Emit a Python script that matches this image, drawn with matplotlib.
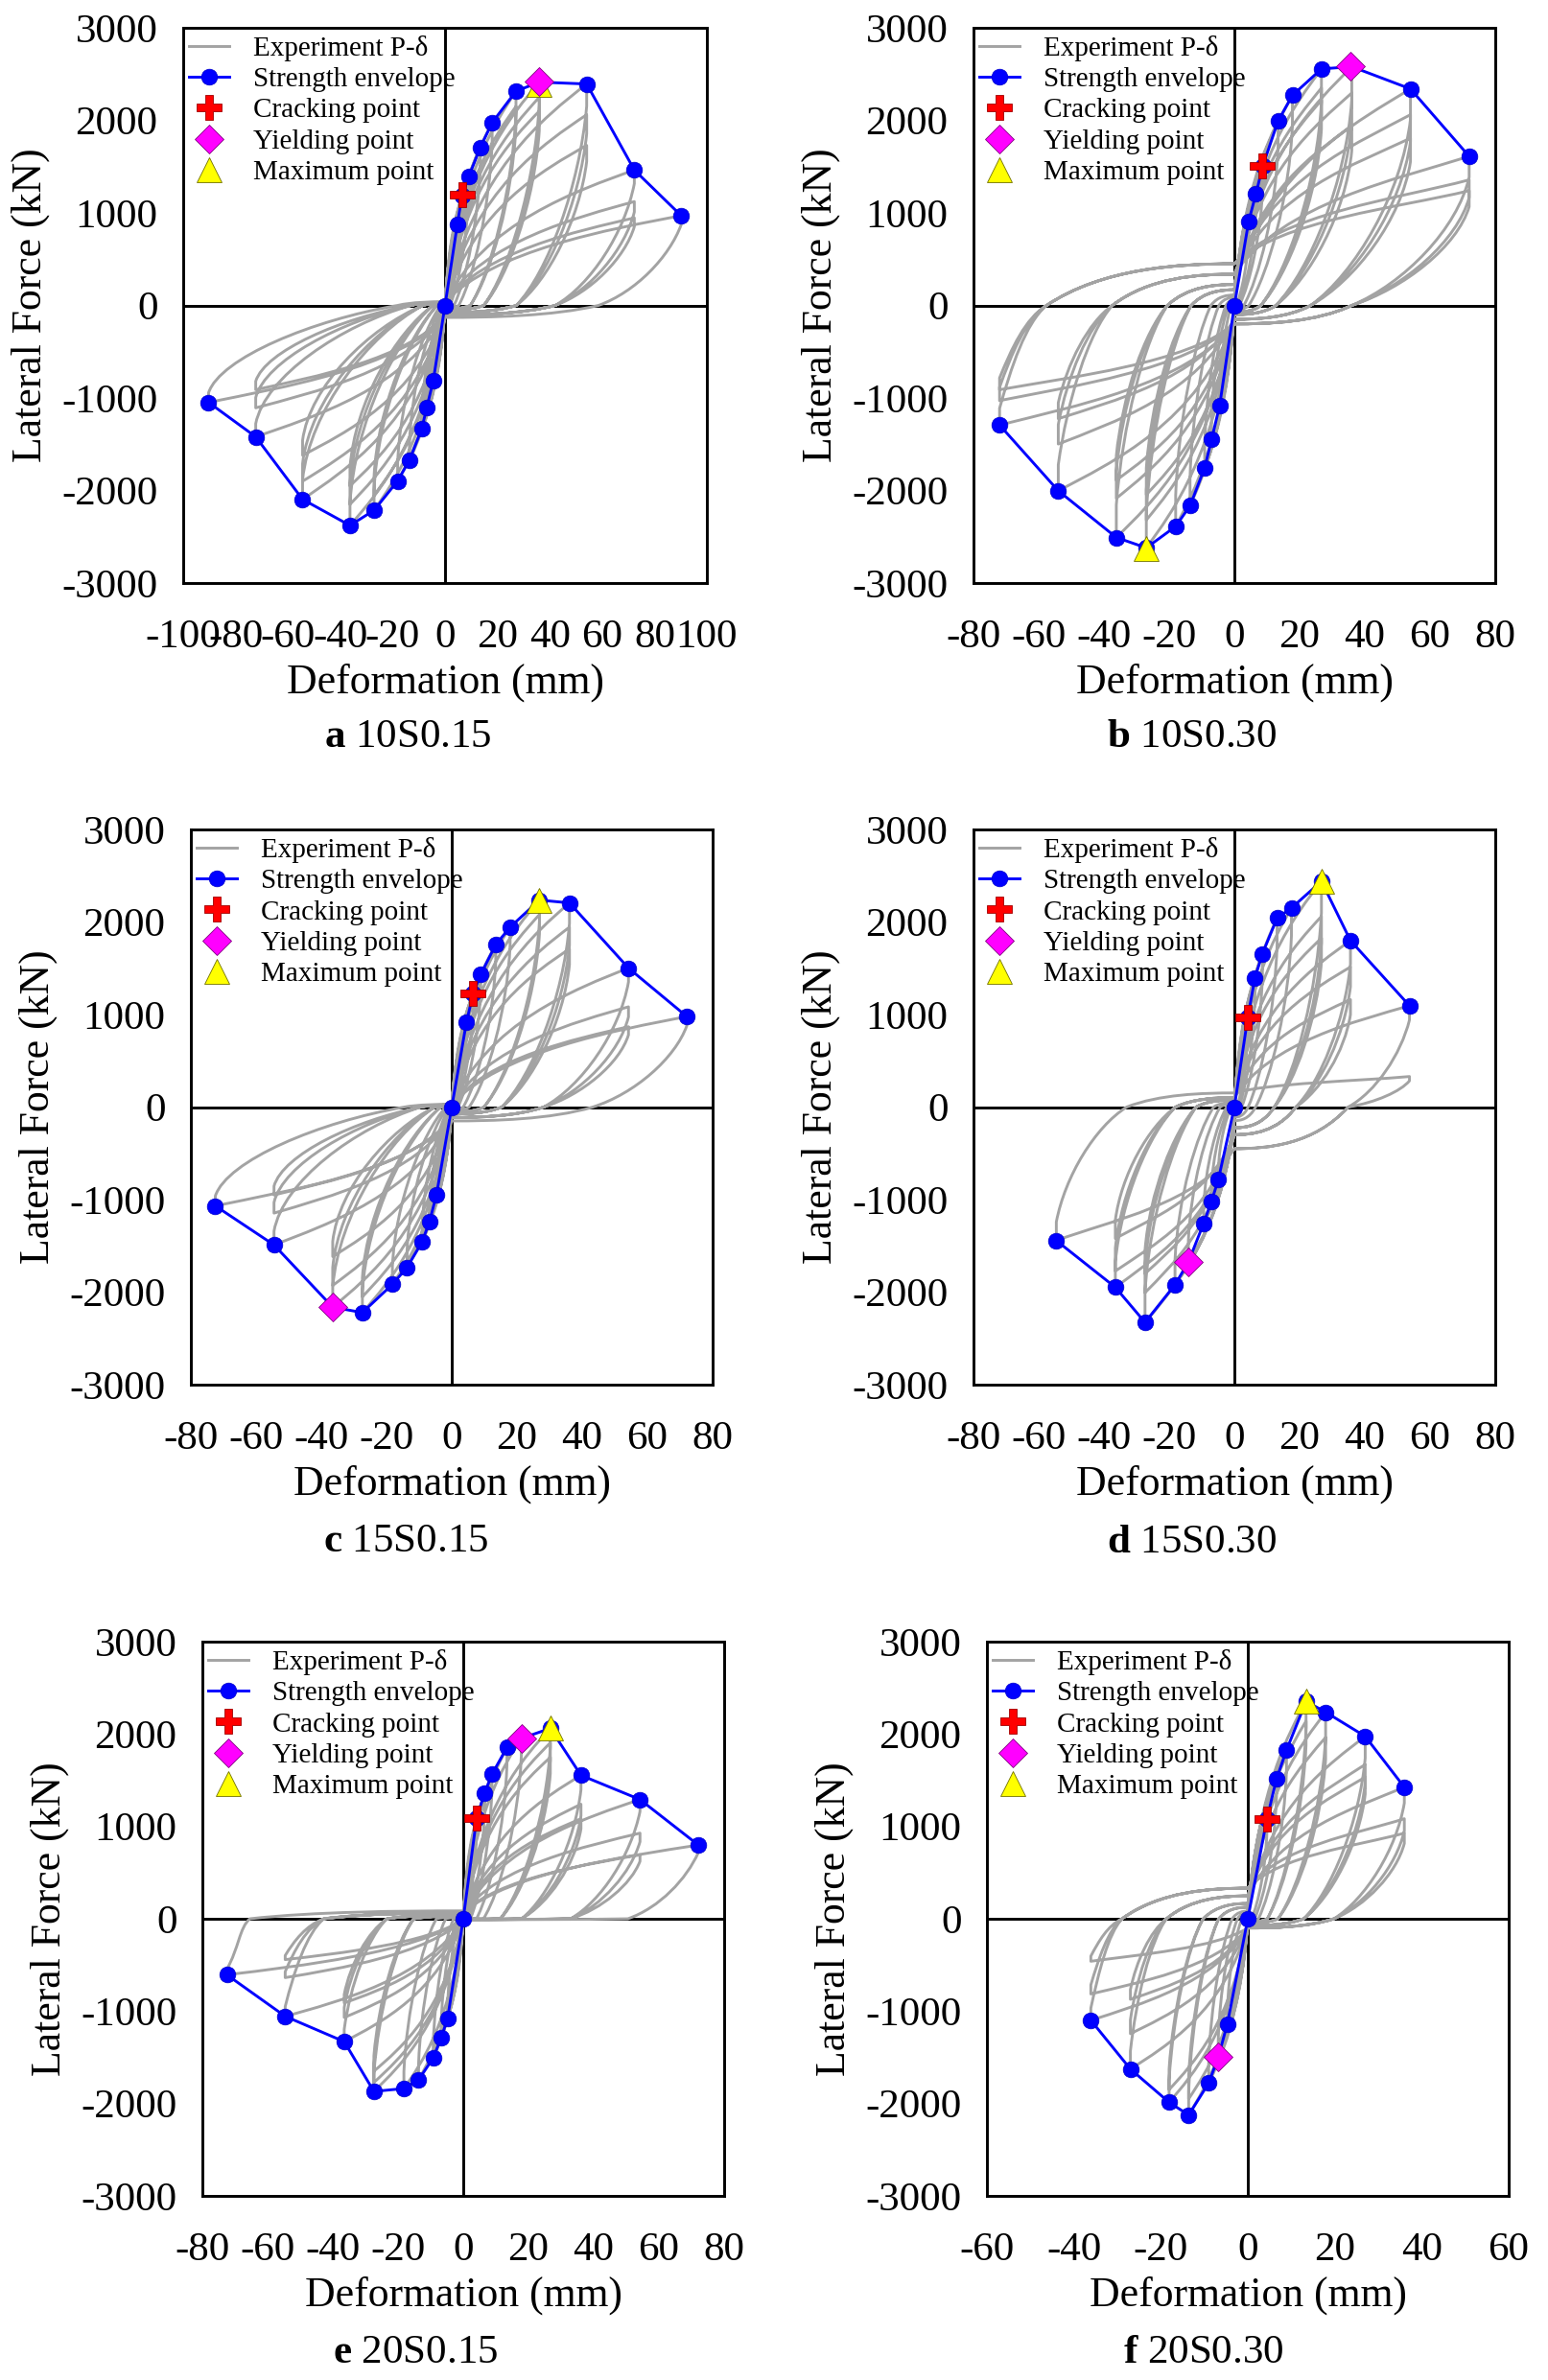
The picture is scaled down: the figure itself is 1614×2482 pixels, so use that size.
import matplotlib
matplotlib.use("Agg")
import matplotlib.pyplot as plt
from matplotlib.path import Path
from matplotlib.patches import PathPatch
from matplotlib.lines import Line2D

plt.rcParams['font.family'] = ['Liberation Serif', 'DejaVu Serif']
plt.rcParams['axes.unicode_minus'] = False
plt.rcParams['mathtext.fontset'] = 'custom'
plt.rcParams['mathtext.rm'] = 'Liberation Serif'
plt.rcParams['mathtext.bf'] = 'Liberation Serif:bold'

# ---------------- data ----------------
# strength envelopes (mm, kN), from the negative end to the positive end
a_env_x = [-90.3, -72.3, -54.4, -36.3, -27.1, -18.1, -13.6, -8.9, -7.0, -4.5, 0, 4.7, 6.5, 9.1, 13.5, 18.0, 27.1, 36.0, 54.1, 72.3, 90.2]
a_env_y = [-1048, -1420, -2096, -2378, -2214, -1897, -1674, -1334, -1107, -813, 0, 876, 1190, 1396, 1709, 1975, 2315, 2413, 2393, 1463, 970]
b_env_x = [-72.0, -54.0, -36.2, -27.0, -18.0, -13.6, -9.1, -7.0, -4.5, 0, 4.4, 6.6, 8.7, 13.4, 17.8, 26.7, 36.0, 54.0, 72.0]
b_env_y = [-1293, -2003, -2508, -2620, -2388, -2165, -1755, -1450, -1080, 0, 910, 1206, 1505, 1993, 2270, 2556, 2580, 2340, 1611]
c_env_x = [-72.5, -54.5, -36.5, -27.4, -18.2, -13.7, -9.1, -6.8, -4.7, 0, 4.5, 6.6, 8.9, 13.5, 17.9, 26.9, 36.1, 54.2, 72.1]
c_env_y = [-1068, -1490, -2163, -2221, -1916, -1733, -1459, -1236, -950, 0, 915, 1232, 1435, 1756, 1944, 2237, 2206, 1502, 978]
d_env_x = [-54.6, -36.5, -27.4, -18.2, -14.1, -9.4, -7.0, -4.9, 0, 4.1, 6.3, 8.6, 13.1, 17.5, 26.7, 35.6, 53.7]
d_env_y = [-1443, -1948, -2327, -1920, -1674, -1255, -1017, -782, 0, 966, 1396, 1658, 2042, 2151, 2440, 1799, 1095]
e_env_x = [-72.5, -54.6, -36.5, -27.4, -18.2, -13.7, -9.2, -6.8, -4.8, 0, 4.1, 6.6, 8.8, 13.4, 17.8, 26.7, 36.1, 54.2, 72.1]
e_env_y = [-606, -1056, -1330, -1869, -1838, -1744, -1506, -1291, -1079, 0, 1091, 1365, 1564, 1854, 1952, 2061, 1553, 1291, 798]
f_env_x = [-36.1, -27.0, -18.1, -13.6, -9.0, -6.8, -4.7, 0, 4.4, 6.6, 8.9, 13.4, 17.9, 27.0, 36.0]
f_env_y = [-1099, -1627, -1987, -2124, -1779, -1498, -1138, 0, 1083, 1513, 1826, 2354, 2237, 1975, 1424]

# load cycles: (positive peak disp, force, negative peak disp, force)
a_cycles = [(4.7, 876, -4.5, -813), (6.5, 1190, -7.0, -1107), (9.1, 1396, -8.9, -1334),
            (13.5, 1709, -13.6, -1674), (18.0, 1975, -18.1, -1897), (27.1, 2315, -27.1, -2214),
            (27.1, 2150, -27.1, -2050), (36.0, 2413, -36.3, -2378), (36.0, 2250, -36.3, -2150),
            (36.0, 2100, -36.3, -1950), (54.1, 2393, -54.4, -2096), (54.1, 2061, -54.4, -1900),
            (54.1, 1729, -54.4, -1620), (72.3, 1463, -72.3, -1420), (72.3, 1122, -72.3, -1107),
            (72.3, 946, -72.3, -911), (90.2, 970, -90.3, -1048)]
b_cycles = [(4.4, 910, -4.5, -1080), (6.6, 1206, -7.0, -1450), (8.7, 1505, -9.1, -1755),
            (13.4, 1993, -13.6, -2165), (17.8, 2270, -18.0, -2388), (26.7, 2556, -27.0, -2620),
            (26.7, 2350, -27.0, -2319), (26.7, 2218, -27.0, -2045), (36.0, 2580, -36.2, -2508),
            (36.0, 2296, -36.2, -2085), (36.0, 1944, -36.2, -1889), (54.0, 2340, -54.0, -2003),
            (54.0, 2061, -54.0, -1498), (54.0, 1807, -54.0, -1224), (72.0, 1611, -72.0, -1293),
            (72.0, 1357, -72.0, -1029), (72.0, 1240, -72.0, -911)]
c_cycles = [(4.5, 915, -4.7, -950), (6.6, 1232, -6.8, -1236), (8.9, 1435, -9.1, -1459),
            (13.5, 1756, -13.7, -1733), (17.9, 1944, -18.2, -1916), (26.9, 2237, -27.4, -2221),
            (26.9, 2080, -27.4, -2050), (36.1, 2206, -36.5, -2163), (36.1, 1944, -36.5, -1928),
            (36.1, 1709, -36.5, -1615), (54.2, 1502, -54.5, -1490), (54.2, 1083, -54.5, -1146),
            (54.2, 868, -54.5, -950), (72.1, 978, -72.5, -1068)]
d_cycles = [(4.1, 966, -4.9, -782), (6.3, 1396, -7.0, -1017), (8.6, 1658, -9.4, -1255),
            (13.1, 2042, -14.1, -1674), (17.5, 2151, -18.2, -1920), (26.7, 2440, -27.4, -2327),
            (26.7, 2061, -27.4, -2006), (26.7, 1826, -27.4, -1800), (35.6, 1799, -36.5, -1948),
            (35.6, 1514, -36.5, -1772), (35.6, 1161, -36.5, -1420), (53.7, 1095, -54.6, -1443),
            (53.7, 330, None, None)]
e_cycles = [(4.1, 1091, -4.8, -1079), (6.6, 1365, -6.8, -1291), (8.8, 1564, -9.2, -1506),
            (13.4, 1854, -13.7, -1744), (17.8, 1952, -18.2, -1838), (26.7, 2061, -27.4, -1869),
            (26.7, 1905, -27.4, -1772), (26.7, 1748, -27.4, -1650), (36.1, 1553, -36.5, -1330),
            (36.1, 1240, -36.5, -1068), (36.1, 1083, -36.5, -911), (54.2, 1291, -54.6, -1056),
            (54.2, 927, -54.6, -637), (54.2, 692, -54.6, -442), (72.1, 798, -72.5, -606)]
f_cycles = [(4.4, 1083, -4.7, -1138), (6.6, 1513, -6.8, -1498), (8.9, 1826, -9.0, -1779),
            (13.4, 2354, -13.6, -2124), (13.4, 2140, -13.6, -1950), (17.9, 2237, -18.1, -1987),
            (17.9, 1963, -18.1, -1850), (27.0, 1975, -27.0, -1627), (27.0, 1670, -27.0, -1244),
            (27.0, 1533, -27.0, -872), (36.0, 1424, -36.1, -1099), (36.0, 1083, -36.1, -814),
            (36.0, 927, -36.1, -460)]

# loop shape read per specimen: drop ratio, residual ratio (+/-), force at zero disp (+/-)
a_shape = (0.90, 0.65, 0.20, -130, 40)
b_shape = (0.86, 0.50, 0.80, -200, 450)
c_shape = (0.90, 0.60, 0.20, -150, 30)
d_shape = (0.86, 0.65, 0.60, -450, 150)
e_shape = (0.90, 0.70, 0.90, -10, 85)
f_shape = (0.88, 0.55, 0.80, -100, 330)

# characteristic points (x, y)
a_crack, a_yield, a_max = (6.5, 1193), (36.0, 2421), (36.0, 2385)
b_crack, b_yield, b_max = (8.5, 1510), (35.5, 2585), (-27.2, -2632)
c_crack, c_yield, c_max = (6.6, 1232), (-36.5, -2163), (26.9, 2237)
d_crack, d_yield, d_max = (4.1, 966), (-14.1, -1674), (26.7, 2440)
e_crack, e_yield, e_max = (4.1, 1091), (17.8, 1952), (26.7, 2061)
f_crack, f_yield, f_max = (4.4, 1083), (-6.8, -1498), (13.4, 2354)

letters = ['a', 'b', 'c', 'd', 'e', 'f']
names = ['10S0.15', '10S0.30', '15S0.15', '15S0.30', '20S0.15', '20S0.30']
x_limits = [100, 80, 80, 80, 80, 60]

W, H = 1615, 2482
GRAY = '#a3a3a3'
LW = 2.1


def half_loop(xp, yp, y0, fo, drop, rr, xmax):
    # loading from (0, y0) to the peak, drop, unloading back to (0, fo)
    v = [(0.2 * xp, y0 + 0.6 * (yp - y0)), (0.7 * xp, 0.85 * yp), (xp, yp), (xp, drop * yp)]
    r = rr * xp * (abs(xp) / xmax) ** 0.5
    v += [(0.95 * xp, 0.6 * drop * yp), (r + 0.45 * (xp - r), 0.15 * yp), (r, 0.0)]
    v += [(0.7 * r, 0.9 * fo), (0.3 * r, fo), (0.0, fo)]
    c = [Path.CURVE4] * 3 + [Path.LINETO] + [Path.CURVE4] * 6
    return v, c


def hysteresis_path(cycles, shape):
    drop, rp, rn, f_out, f_in = shape
    xmax = max(c[0] for c in cycles)
    verts = [(0.0, 0.0)]
    codes = [Path.MOVETO]
    y0 = 0.0
    for xp, yp, xn, yn in cycles:
        fo = f_out * xp / xmax
        v, c = half_loop(xp, yp, y0, fo, drop, rp, xmax)
        verts += v
        codes += c
        if xn is None:
            break
        fi = f_in * (-xn) / xmax
        v, c = half_loop(xn, yn, fo, fi, drop, rn, xmax)
        verts += v
        codes += c
        y0 = fi
    return Path(verts, codes)


fig = plt.figure(figsize=(W / 100, H / 100), dpi=100)

# axes boxes in pixels: left, top, right, bottom
boxes = [(191, 29, 737, 608), (1015, 29, 1559, 608),
         (199, 865, 743, 1444), (1015, 865, 1559, 1444),
         (211, 1712, 755, 2290), (1029, 1712, 1573, 2290)]
title_pos = [(425, 769), (1243, 769), (423, 1608), (1243, 1609), (433, 2454), (1255, 2454)]

envs = [(a_env_x, a_env_y), (b_env_x, b_env_y), (c_env_x, c_env_y),
        (d_env_x, d_env_y), (e_env_x, e_env_y), (f_env_x, f_env_y)]
cycles_all = [a_cycles, b_cycles, c_cycles, d_cycles, e_cycles, f_cycles]
shapes = [a_shape, b_shape, c_shape, d_shape, e_shape, f_shape]
points = [(a_crack, a_yield, a_max), (b_crack, b_yield, b_max), (c_crack, c_yield, c_max),
          (d_crack, d_yield, d_max), (e_crack, e_yield, e_max), (f_crack, f_yield, f_max)]

for i in range(6):
    l, t, r, b = boxes[i]
    w, h = r - l, b - t
    ax = fig.add_axes([l / W, 1 - b / H, w / W, h / H])
    xl = x_limits[i]
    ax.set_xlim(-xl, xl)
    ax.set_ylim(-3000, 3000)
    ax.set_xticks(range(-xl, xl + 1, 20))
    ax.set_yticks(range(-3000, 3001, 1000))
    ax.tick_params(length=0, labelsize=31)
    ax.tick_params(axis='x', pad=27)
    ax.tick_params(axis='y', pad=19)
    for sp in ax.spines.values():
        sp.set_linewidth(LW)
    ax.axhline(0, color='k', lw=LW, zorder=1.5)
    ax.axvline(0, color='k', lw=LW, zorder=1.5)

    ax.add_patch(PathPatch(hysteresis_path(cycles_all[i], shapes[i]), facecolor='none',
                           edgecolor=GRAY, lw=LW, zorder=2, joinstyle='round'))
    ex, ey = envs[i]
    ax.plot(ex, ey, '-o', color='#0000ff', mec='#0000cc', mew=0.5, ms=12, lw=LW, zorder=3)
    crack, yld, mx = points[i]
    ax.plot(*crack, 'P', ms=19, color='#ff0000', mec='#a00000', mew=0.6, zorder=6)
    ax.plot(*mx, '^', ms=19, color='#ffff00', mec='#707000', mew=0.6, zorder=4.5)
    ax.plot(*yld, 'D', ms=15, color='#ff00ff', mec='#800080', mew=0.6, zorder=5)

    handles = [Line2D([], [], color=GRAY, lw=LW),
               Line2D([], [], color='#0000ff', marker='o', mec='#0000cc', mew=0.5, ms=12, lw=LW),
               Line2D([], [], ls='none', marker='P', ms=19, color='#ff0000', mec='#a00000', mew=0.6),
               Line2D([], [], ls='none', marker='D', ms=15, color='#ff00ff', mec='#800080', mew=0.6),
               Line2D([], [], ls='none', marker='^', ms=19, color='#ffff00', mec='#707000', mew=0.6)]
    labels = ['Experiment P-δ', 'Strength envelope', 'Cracking point', 'Yielding point', 'Maximum point']
    ax.legend(handles, labels, loc='upper left', bbox_to_anchor=(6 / w, 1 - 8 / h),
              frameon=False, fontsize=21, handlelength=1.43, handletextpad=0.87,
              labelspacing=0.2, borderpad=0, borderaxespad=0, numpoints=1)

    ax.set_xlabel('Deformation (mm)', fontsize=31.5)
    ax.xaxis.label.set_va('center')
    ax.xaxis.set_label_coords(0.5, -104 / h)
    ax.set_ylabel('Lateral Force (kN)', fontsize=31.5)
    ax.yaxis.label.set_va('center')
    ax.yaxis.set_label_coords(-159 / w, 0.5)

    cx, cy = title_pos[i]
    fig.text(cx / W, 1 - cy / H, r'$\mathbf{' + letters[i] + '}$ ' + names[i],
             ha='center', va='center', fontsize=31)

fig.savefig('out.png', dpi=100)
